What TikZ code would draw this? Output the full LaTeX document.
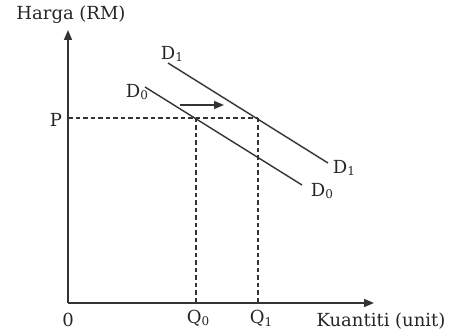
\documentclass[tikz,border=0pt]{standalone}
\usepackage{fontspec}
\setmainfont{DejaVu Serif}
\usetikzlibrary{arrows.meta}
\newcommand{\sbs}[1]{\raisebox{-0.3ex}{\fontsize{12}{12}\selectfont #1}}
\begin{document}
\begin{tikzpicture}[x=1pt,y=-1pt,
  lbl/.style={inner sep=0pt,text=black!85,font=\fontsize{18}{20}\selectfont},
  axis/.style={line width=1.5pt,draw=black!80,-{Triangle[length=10pt,width=8pt]}},
  curve/.style={line width=1.4pt,draw=black!80},
  guide/.style={line width=1.2pt,draw=black!80,dash pattern=on 4.5pt off 3pt}]
\useasboundingbox (0,0) rectangle (451,331);
\coordinate (O) at (68,303);
\coordinate (ytop) at (68,30);
\coordinate (xend) at (374,303);
\draw[axis] (O) -- (ytop);
\draw[axis] (O) -- (xend);
\node[lbl] (harga) at (71,15) {Harga (RM)};
\node[lbl] (kuan) at (381,321) {Kuantiti (unit)};
\node[lbl] (zero) at (68,320) {0};
\node[lbl] (P) at (56,120) {P};
\node[lbl] (Q0) at (198,318) {Q\sbs{0}};
\node[lbl] (Q1) at (261,318) {Q\sbs{1}};
% demand curves
\coordinate (d0s) at (145,87);
\coordinate (d0e) at (302,185);
\coordinate (d1s) at (168,63);
\coordinate (d1e) at (328,163);
\draw[curve] (d0s) -- (d0e);
\draw[curve] (d1s) -- (d1e);
\node[lbl] (D0a) at (137,92) {D\sbs{0}};
\node[lbl] (D1a) at (172,54) {D\sbs{1}};
\node[lbl] (D0b) at (322,191) {D\sbs{0}};
\node[lbl] (D1b) at (344,168) {D\sbs{1}};
% intersections
\coordinate (Pl) at (68,118);
\coordinate (e0) at (196,118);
\coordinate (e1) at (258,118);
\coordinate (q0) at (196,303);
\coordinate (q1) at (258,303);
\draw[guide] (Pl) -- (e1);
\draw[guide] (e0) -- (q0);
\draw[guide] (e1) -- (q1);
% shift arrow
\coordinate (as) at (180,105);
\coordinate (ae) at (224,105);
\draw[line width=1.5pt,draw=black!80,fill=black!80,-{Triangle[length=10pt,width=8pt]}] (as) -- (ae);
\end{tikzpicture}
\end{document}
